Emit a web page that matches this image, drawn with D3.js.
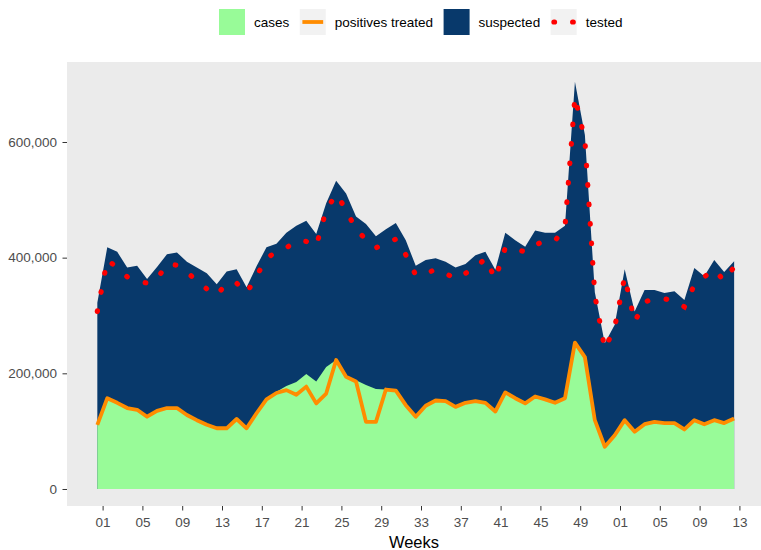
<!DOCTYPE html>
<meta charset="utf-8">
<head>
<title>Weekly suspected, tested and confirmed cases</title>
<script src="https://cdn.jsdelivr.net/npm/d3@7/dist/d3.min.js"></script>
<style>
body { margin: 0; background: #fff; }
svg text { font-family: "Liberation Sans", Arial, sans-serif; }
</style>
</head>
<body>
<script>
// x tick labels, one every 4 weeks (week 52 rolls over into week 01)
const tickLabels = ["01","05","09","13","17","21","25","29","33","37","41","45","49","01","05","09","13"];

// weekly series (65 weeks)
const suspected = [322000,418000,410000,383000,386000,363000,384000,406000,409000,393000,
  383000,373000,354000,376000,380000,349000,385000,418000,424000,443000,
  455000,464000,441000,494000,533000,511000,471000,458000,437000,449000,
  460000,430000,386000,396000,399000,393000,383000,389000,404000,410000,
  379000,443000,430000,419000,447000,443000,443000,455000,704000,612000,
  340000,252000,284000,380000,307000,344000,344000,339000,342000,327000,
  382000,368000,396000,375000,394000];

const tested = [307000,396000,383000,367000,360000,356000,363000,389000,387000,375000,
  360000,346000,335000,356000,356000,339000,368000,399000,410000,417000,
  429000,428000,420000,482000,510000,483000,448000,432000,417000,425000,
  432000,405000,370000,372000,380000,373000,363000,373000,382000,399000,
  363000,417000,415000,410000,422000,429000,429000,453000,678000,603000,
  335000,242000,280000,367000,289000,323000,330000,329000,325000,315000,
  353000,367000,379000,360000,384000];

const cases = [111000,157000,149000,140000,137000,125000,135000,140000,140000,128000,
  119000,111000,105000,105000,121000,105000,131000,155000,168000,178000,
  185000,199000,186000,211000,223000,194000,188000,180000,173000,172000,
  171000,145000,125000,144000,153000,152000,142000,149000,152000,149000,
  134000,167000,157000,148000,160000,155000,149000,157000,253000,228000,
  119000,73000,93000,119000,99000,112000,116000,114000,114000,103000,
  119000,112000,119000,114000,122000];

const positivesTreated = [111000,157000,149000,140000,137000,125000,135000,140000,140000,128000,
  119000,111000,105000,105000,121000,105000,131000,155000,166000,171000,
  163000,177000,148000,165000,223000,194000,186000,116000,116000,172000,
  170000,145000,125000,144000,153000,152000,142000,149000,152000,149000,
  134000,167000,157000,148000,160000,155000,149000,157000,253000,228000,
  119000,73000,93000,119000,99000,112000,116000,114000,114000,103000,
  119000,112000,119000,114000,122000];

const legendNames = ["cases", "positives treated", "suspected", "tested"];

const width = 761, height = 550;
const panel = {left: 67, right: 761, top: 62, bottom: 506};

const colors = {
  cases: "#98fb98",
  treated: "#ff8c00",
  suspected: "#08396b",
  tested: "#ff0000"
};

// observations sit about half a week before the week tick
const weekPos = i => i - 0.53;

const svg = d3.select("body")
  .append("svg")
  .attr("width", width)
  .attr("height", height);

const x = d3.scaleLinear()
  .domain([-3.578, 66.17])
  .range([panel.left, panel.right]);

const y = d3.scaleLinear()
  .domain([-29400, 738300])
  .range([panel.bottom, panel.top]);

// panel background
svg.append("rect")
  .attr("x", panel.left)
  .attr("y", panel.top)
  .attr("width", panel.right - panel.left)
  .attr("height", panel.bottom - panel.top)
  .attr("fill", "#ebebeb");

const area = d3.area()
  .x((d, i) => x(weekPos(i)))
  .y0(y(0))
  .y1(d => y(d));

const line = d3.line()
  .x((d, i) => x(weekPos(i)))
  .y(d => y(d));

svg.append("path")
  .datum(suspected)
  .attr("d", area)
  .attr("fill", colors.suspected);

svg.append("path")
  .datum(cases)
  .attr("d", area)
  .attr("fill", colors.cases);

svg.append("path")
  .datum(positivesTreated)
  .attr("d", line)
  .attr("fill", "none")
  .attr("stroke", colors.treated)
  .attr("stroke-width", 3.8)
  .attr("stroke-linejoin", "round");

svg.append("path")
  .datum(tested)
  .attr("d", line)
  .attr("fill", "none")
  .attr("stroke", colors.tested)
  .attr("stroke-width", 5.2)
  .attr("stroke-linecap", "round")
  .attr("stroke-dasharray", "0.6,18.9");

// axes
const xAxis = d3.axisBottom(x)
  .tickValues(d3.range(0, 65, 4))
  .tickFormat((d, i) => tickLabels[i])
  .tickSize(4.5)
  .tickPadding(6.5);

const yAxis = d3.axisLeft(y)
  .tickValues([0, 200000, 400000, 600000])
  .tickFormat(d3.format(","))
  .tickSize(4.5)
  .tickPadding(5.5);

function styleAxis(g) {
  g.select(".domain").remove();
  g.attr("font-family", null).attr("font-size", null);
  g.selectAll(".tick line").attr("stroke", "#333333").attr("stroke-width", 1);
  g.selectAll(".tick text").attr("fill", "#4d4d4d").style("font-size", "13.5px");
}

svg.append("g")
  .attr("transform", `translate(0,${panel.bottom})`)
  .call(xAxis)
  .call(styleAxis);

svg.append("g")
  .attr("transform", `translate(${panel.left},0)`)
  .call(yAxis)
  .call(styleAxis);

svg.append("text")
  .attr("x", (panel.left + panel.right) / 2)
  .attr("y", 548)
  .attr("text-anchor", "middle")
  .style("font-size", "16.5px")
  .attr("fill", "#000")
  .text("Weeks");

// legend along the top
const keySize = 26;
const legend = svg.append("g").attr("transform", "translate(219,9)");
let lx = 0;
legendNames.forEach(name => {
  const item = legend.append("g").attr("transform", `translate(${lx},0)`);
  if (name === "cases" || name === "suspected") {
    item.append("rect")
      .attr("width", keySize).attr("height", keySize)
      .attr("fill", name === "cases" ? colors.cases : colors.suspected);
  } else {
    item.append("rect")
      .attr("width", keySize).attr("height", keySize)
      .attr("fill", "#f2f2f2");
    const ln = item.append("line")
      .attr("x1", keySize * 0.1).attr("x2", keySize * 0.9)
      .attr("y1", keySize / 2).attr("y2", keySize / 2);
    if (name === "tested") {
      ln.attr("stroke", colors.tested).attr("stroke-width", 5.2)
        .attr("stroke-linecap", "round")
        .attr("stroke-dasharray", "0.6,18.1")
        .attr("transform", "translate(0.7,0)");
    } else {
      ln.attr("stroke", colors.treated).attr("stroke-width", 3.8);
    }
  }
  const t = item.append("text")
    .attr("x", keySize + 9)
    .attr("y", keySize / 2)
    .attr("dy", "0.35em")
    .style("font-size", "13.5px")
    .attr("fill", "#000")
    .text(name);
  lx += keySize + 9 + t.node().getComputedTextLength() + 10.5;
});
</script>
</body>
</html>
